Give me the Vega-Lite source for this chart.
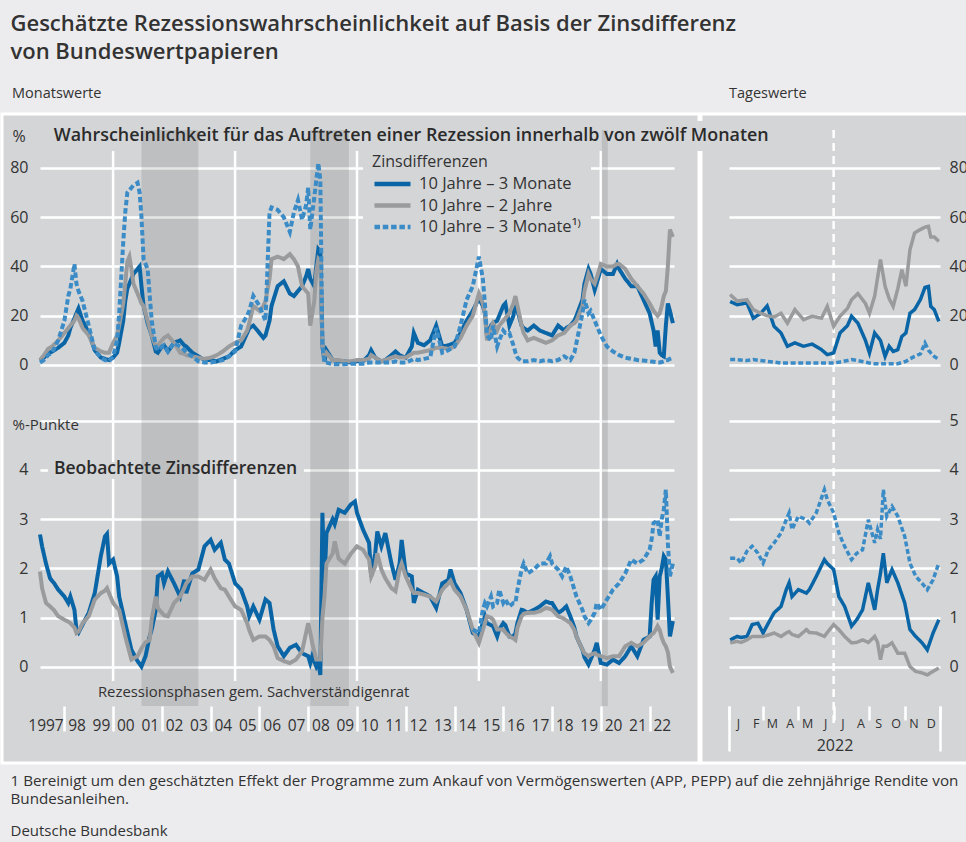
{
  "$schema": "https://vega.github.io/schema/vega-lite/v6.json",
  "background": "#ececee",
  "padding": {"left": 0, "right": 0, "top": 13, "bottom": 8},
  "config": {
    "font": "Open Sans",
    "view": {"fill": "#d4d5d7", "stroke": "#ffffff", "strokeWidth": 3},
    "axis": {"domain": false, "labelOverlap": false, "labelColor": "#333333", "labelFont": "Open Sans", "titleColor": "#333333", "titleFont": "Open Sans", "titleFontWeight": "normal"},
    "title": {"font": "Open Sans", "color": "#333333"},
    "text": {"font": "Open Sans", "color": "#333333"}
  },
  "title": {
    "text": ["Geschätzte Rezessionswahrscheinlichkeit auf Basis der Zinsdifferenz", "von Bundeswertpapieren"],
    "anchor": "start", "dx": 10, "fontSize": 22, "fontWeight": 600, "lineHeight": 28, "offset": 20, "color": "#333333"
  },
  "datasets": {
    "probM": [
      {"d":"1997-01-01","a":1.9,"b":2,"c":1},{"d":"1997-03-01","a":3,"b":4,"c":2},{"d":"1997-05-01","a":4.5,"b":6.5,"c":4},{"d":"1997-07-01","a":5.5,"b":7.5,"c":5},{"d":"1997-10-01","a":7,"b":10,"c":10},
      {"d":"1998-01-01","a":9,"b":13,"c":18},{"d":"1998-03-01","a":12,"b":15,"c":28},{"d":"1998-04-01","a":15,"b":16,"c":31},{"d":"1998-06-01","a":19,"b":18,"c":41},{"d":"1998-07-01","a":21,"b":20,"c":33},{"d":"1998-08-01","a":23,"b":19,"c":30},{"d":"1998-10-01","a":18,"b":15,"c":26},
      {"d":"1999-01-01","a":13,"b":12,"c":16},{"d":"1999-04-01","a":6,"b":7,"c":6},{"d":"1999-07-01","a":3,"b":5.5,"c":3},{"d":"1999-09-01","a":2.5,"b":5,"c":2},{"d":"1999-11-01","a":2,"b":5,"c":1.5},
      {"d":"2000-01-01","a":3,"b":9,"c":3.5},{"d":"2000-03-01","a":5,"b":12,"c":10},{"d":"2000-04-01","a":9,"b":16,"c":21},{"d":"2000-06-01","a":18,"b":25,"c":50},{"d":"2000-07-01","a":26,"b":33,"c":62},{"d":"2000-08-01","a":31,"b":42,"c":70},{"d":"2000-09-01","a":33,"b":44,"c":71},{"d":"2000-10-01","a":35,"b":39,"c":72},{"d":"2000-11-01","a":37,"b":33,"c":73},
      {"d":"2001-01-01","a":39,"b":29,"c":74},{"d":"2001-02-01","a":40,"b":27,"c":70},{"d":"2001-03-01","a":32,"b":25,"c":60},{"d":"2001-04-01","a":24,"b":24,"c":43},{"d":"2001-06-01","a":17,"b":18,"c":39},{"d":"2001-08-01","a":12,"b":12,"c":18},{"d":"2001-10-01","a":5.5,"b":7.5,"c":7.5},{"d":"2001-11-01","a":5,"b":8,"c":6},
      {"d":"2002-01-01","a":7.5,"b":10,"c":7.5},{"d":"2002-02-01","a":8,"b":11,"c":8},{"d":"2002-04-01","a":5.5,"b":12,"c":5.5},{"d":"2002-07-01","a":9,"b":9,"c":9},{"d":"2002-10-01","a":10,"b":5,"c":7.5},{"d":"2002-12-01","a":8,"b":4.5,"c":6},
      {"d":"2003-01-01","a":7.5,"b":4,"c":5},{"d":"2003-04-01","a":5,"b":3.5,"c":3.5},{"d":"2003-07-01","a":3.5,"b":3,"c":1.5},{"d":"2003-10-01","a":2,"b":2.5,"c":1},
      {"d":"2004-01-01","a":2,"b":3,"c":1},{"d":"2004-04-01","a":1.5,"b":4,"c":1.5},{"d":"2004-07-01","a":2.5,"b":5.5,"c":2},{"d":"2004-10-01","a":3.5,"b":7.5,"c":3.5},
      {"d":"2005-01-01","a":6,"b":9,"c":5.5},{"d":"2005-04-01","a":7.5,"b":10,"c":16},{"d":"2005-07-01","a":13,"b":14,"c":20},{"d":"2005-08-01","a":15,"b":17,"c":22},{"d":"2005-10-01","a":16,"b":24,"c":28},
      {"d":"2006-01-01","a":13,"b":22,"c":24},{"d":"2006-03-01","a":11,"b":24,"c":20},{"d":"2006-04-01","a":12,"b":26,"c":18},{"d":"2006-06-01","a":18,"b":35,"c":62},{"d":"2006-07-01","a":24,"b":43,"c":64},{"d":"2006-10-01","a":32,"b":44,"c":63},
      {"d":"2007-01-01","a":34,"b":43,"c":60},{"d":"2007-04-01","a":29,"b":45,"c":54},{"d":"2007-06-01","a":28,"b":43,"c":62},{"d":"2007-08-01","a":30,"b":40,"c":67},{"d":"2007-10-01","a":32,"b":32,"c":59},{"d":"2007-12-01","a":36,"b":30,"c":65},
      {"d":"2008-01-01","a":39,"b":29,"c":72},{"d":"2008-02-01","a":35,"b":16,"c":55},{"d":"2008-04-01","a":32,"b":26,"c":68},{"d":"2008-05-01","a":40,"b":38,"c":75},{"d":"2008-06-01","a":47,"b":43,"c":82},{"d":"2008-07-01","a":46,"b":42,"c":75},{"d":"2008-08-01","a":8,"b":7.5,"c":7.5},{"d":"2008-09-01","a":1.5,"b":3.5,"c":1},{"d":"2008-10-01","a":6,"b":5,"c":1},
      {"d":"2009-01-01","a":2,"b":2,"c":0.3},{"d":"2009-04-01","a":1.5,"b":2,"c":0.3},{"d":"2009-07-01","a":1.5,"b":1.5,"c":0.3},{"d":"2009-10-01","a":1,"b":1.5,"c":0.5},
      {"d":"2010-01-01","a":1.5,"b":2,"c":0.5},{"d":"2010-04-01","a":1.5,"b":2,"c":0.5},{"d":"2010-07-01","a":4,"b":2.5,"c":1},{"d":"2010-08-01","a":6,"b":4,"c":1},{"d":"2010-10-01","a":3,"b":3,"c":1},
      {"d":"2011-01-01","a":1.5,"b":1.5,"c":1},{"d":"2011-03-01","a":2,"b":2,"c":1},{"d":"2011-06-01","a":4,"b":3,"c":1},{"d":"2011-08-01","a":5.5,"b":3.5,"c":1.5},{"d":"2011-10-01","a":4,"b":3,"c":1},
      {"d":"2012-01-01","a":3,"b":3,"c":1},{"d":"2012-04-01","a":7.5,"b":4.5,"c":2},{"d":"2012-05-01","a":13,"b":5,"c":2.5},{"d":"2012-07-01","a":9,"b":5,"c":2},{"d":"2012-10-01","a":8,"b":5.5,"c":2.5},
      {"d":"2013-01-01","a":10,"b":6,"c":3},{"d":"2013-04-01","a":16,"b":7,"c":15},{"d":"2013-07-01","a":7.5,"b":7,"c":5},{"d":"2013-10-01","a":8,"b":6.5,"c":6},
      {"d":"2014-01-01","a":9,"b":7.5,"c":7.5},{"d":"2014-04-01","a":13,"b":11,"c":16},{"d":"2014-07-01","a":18,"b":16,"c":26.5},{"d":"2014-10-01","a":22,"b":20,"c":32},
      {"d":"2015-01-01","a":27,"b":29,"c":44},{"d":"2015-03-01","a":24,"b":25,"c":35},{"d":"2015-04-01","a":21,"b":21,"c":25},{"d":"2015-05-01","a":12,"b":10,"c":12},{"d":"2015-07-01","a":16,"b":15,"c":10},{"d":"2015-08-01","a":17,"b":17,"c":16},{"d":"2015-10-01","a":18,"b":14,"c":7.5},{"d":"2015-11-01","a":20,"b":16,"c":10},
      {"d":"2016-01-01","a":24,"b":18,"c":14},{"d":"2016-02-01","a":25,"b":19,"c":13},{"d":"2016-04-01","a":16,"b":21,"c":13},{"d":"2016-06-01","a":20,"b":25,"c":8},{"d":"2016-07-01","a":26.5,"b":28,"c":5},{"d":"2016-08-01","a":22,"b":24,"c":3},{"d":"2016-10-01","a":16,"b":16,"c":1.5},{"d":"2016-11-01","a":15,"b":13,"c":1.5},
      {"d":"2017-01-01","a":14,"b":10,"c":1.5},{"d":"2017-04-01","a":16,"b":11,"c":2},{"d":"2017-07-01","a":14,"b":10,"c":1.5},{"d":"2017-10-01","a":13,"b":9,"c":2},
      {"d":"2018-01-01","a":12,"b":10,"c":1.5},{"d":"2018-04-01","a":16,"b":12,"c":2},{"d":"2018-07-01","a":14,"b":13,"c":3.5},{"d":"2018-08-01","a":15,"b":14,"c":3},{"d":"2018-10-01","a":16,"b":16,"c":2},{"d":"2018-12-01","a":18,"b":17,"c":5},
      {"d":"2019-01-01","a":20,"b":18,"c":9},{"d":"2019-04-01","a":26.5,"b":24,"c":21},{"d":"2019-05-01","a":33,"b":30,"c":26.5},{"d":"2019-07-01","a":39,"b":37,"c":21},{"d":"2019-08-01","a":37,"b":35,"c":22},{"d":"2019-10-01","a":30.5,"b":33,"c":18},{"d":"2019-12-01","a":36,"b":38,"c":14},
      {"d":"2020-01-01","a":39,"b":41,"c":12},{"d":"2020-04-01","a":37,"b":40,"c":7.5},{"d":"2020-07-01","a":37,"b":40,"c":5.5},{"d":"2020-09-01","a":41,"b":41,"c":4.5},{"d":"2020-10-01","a":39,"b":41,"c":4},
      {"d":"2021-01-01","a":35,"b":39,"c":3},{"d":"2021-04-01","a":32,"b":35,"c":2.5},{"d":"2021-07-01","a":32,"b":32,"c":2},{"d":"2021-10-01","a":26.5,"b":29,"c":1.8},
      {"d":"2022-01-01","a":21,"b":25,"c":1.5},{"d":"2022-03-01","a":14,"b":22,"c":1.3},{"d":"2022-04-01","a":7.5,"b":21,"c":1.2},{"d":"2022-05-01","a":14,"b":20,"c":1},{"d":"2022-06-01","a":5,"b":21,"c":1},{"d":"2022-07-01","a":4,"b":24,"c":1.2},{"d":"2022-08-01","a":3.5,"b":28,"c":1.5},{"d":"2022-09-01","a":16,"b":30,"c":2},{"d":"2022-10-01","a":25,"b":40,"c":2},{"d":"2022-11-01","a":22,"b":55,"c":2.5},{"d":"2022-12-15","a":17,"b":52,"c":3}
    ],
    "sprM": [
      {"d":"1997-01-01","a":2.69,"b":1.94},{"d":"1997-02-01","a":2.45,"b":1.6},{"d":"1997-04-01","a":2.1,"b":1.3},{"d":"1997-06-01","a":1.8,"b":1.23},{"d":"1997-08-01","a":1.7,"b":1.15},{"d":"1997-10-01","a":1.57,"b":1.03},
      {"d":"1998-01-01","a":1.43,"b":0.96},{"d":"1998-03-01","a":1.3,"b":0.92},{"d":"1998-04-01","a":1.43,"b":0.89},{"d":"1998-06-01","a":1.16,"b":0.8},{"d":"1998-07-01","a":0.76,"b":0.69},{"d":"1998-08-01","a":0.7,"b":0.72},{"d":"1998-10-01","a":0.86,"b":0.89},
      {"d":"1999-01-01","a":1.1,"b":1.03},{"d":"1999-04-01","a":1.5,"b":1.37},{"d":"1999-07-01","a":2.25,"b":1.5},{"d":"1999-09-01","a":2.65,"b":1.55},{"d":"1999-10-01","a":2.7,"b":1.6},{"d":"1999-11-01","a":2.1,"b":1.5},
      {"d":"2000-01-01","a":2.18,"b":1.3},{"d":"2000-03-01","a":1.84,"b":1.2},{"d":"2000-04-01","a":1.43,"b":1.16},{"d":"2000-07-01","a":0.89,"b":0.62},{"d":"2000-10-01","a":0.35,"b":0.15},
      {"d":"2001-01-01","a":0.12,"b":0.22},{"d":"2001-03-01","a":0.01,"b":0.38},{"d":"2001-05-01","a":0.22,"b":0.5},{"d":"2001-07-01","a":0.62,"b":0.55},{"d":"2001-08-01","a":0.76,"b":0.96},{"d":"2001-10-01","a":1.16,"b":1.43},{"d":"2001-11-01","a":1.84,"b":1.2},
      {"d":"2002-01-01","a":1.9,"b":1.1},{"d":"2002-02-01","a":1.7,"b":1.05},{"d":"2002-04-01","a":1.94,"b":1.03},{"d":"2002-07-01","a":1.7,"b":1.3},{"d":"2002-10-01","a":1.43,"b":1.43},{"d":"2002-12-01","a":1.77,"b":1.6},
      {"d":"2003-01-01","a":1.5,"b":1.7},{"d":"2003-04-01","a":1.9,"b":1.84},{"d":"2003-07-01","a":1.98,"b":1.84},{"d":"2003-10-01","a":2.45,"b":1.77},
      {"d":"2004-01-01","a":2.58,"b":1.98},{"d":"2004-03-01","a":2.38,"b":1.8},{"d":"2004-06-01","a":2.52,"b":1.6},{"d":"2004-08-01","a":2.18,"b":1.57},{"d":"2004-10-01","a":2.1,"b":1.43},
      {"d":"2005-01-01","a":1.7,"b":1.23},{"d":"2005-04-01","a":1.57,"b":1.16},{"d":"2005-07-01","a":1.23,"b":0.89},{"d":"2005-08-01","a":1.03,"b":0.75},{"d":"2005-10-01","a":1.23,"b":0.55},
      {"d":"2006-01-01","a":0.96,"b":0.62},{"d":"2006-04-01","a":1.37,"b":0.62},{"d":"2006-06-01","a":1.3,"b":0.55},{"d":"2006-08-01","a":0.76,"b":0.42},{"d":"2006-10-01","a":0.42,"b":0.18},
      {"d":"2007-01-01","a":0.22,"b":0.12},{"d":"2007-04-01","a":0.39,"b":0.08},{"d":"2007-07-01","a":0.45,"b":0.15},{"d":"2007-10-01","a":0.28,"b":0.32},
      {"d":"2008-01-01","a":0.22,"b":0.89},{"d":"2008-02-01","a":0.08,"b":0.7},{"d":"2008-03-01","a":0.22,"b":0.49},{"d":"2008-05-01","a":0.01,"b":0.15},{"d":"2008-06-01","a":0.1,"b":0.15},{"d":"2008-07-01","a":-0.16,"b":0.15},{"d":"2008-08-01","a":3.13,"b":1.0},{"d":"2008-09-01","a":1.7,"b":1.43},{"d":"2008-10-01","a":2.72,"b":2.1},
      {"d":"2009-01-01","a":3.0,"b":2.3},{"d":"2009-02-01","a":2.9,"b":2.55},{"d":"2009-04-01","a":3.19,"b":2.2},{"d":"2009-07-01","a":3.13,"b":2.1},{"d":"2009-10-01","a":3.3,"b":2.3},{"d":"2009-12-01","a":3.36,"b":2.4},
      {"d":"2010-01-01","a":3.13,"b":2.45},{"d":"2010-04-01","a":2.79,"b":2.38},{"d":"2010-07-01","a":2.52,"b":2.18},{"d":"2010-08-01","a":1.84,"b":1.84},{"d":"2010-10-01","a":2.31,"b":2.04},{"d":"2010-11-01","a":2.75,"b":2.31},
      {"d":"2011-01-01","a":2.45,"b":1.98},{"d":"2011-03-01","a":2.72,"b":1.8},{"d":"2011-06-01","a":2.1,"b":1.6},{"d":"2011-08-01","a":1.77,"b":1.54},{"d":"2011-10-01","a":2.1,"b":1.98},{"d":"2011-11-01","a":2.58,"b":2.1},
      {"d":"2012-01-01","a":1.9,"b":1.84},{"d":"2012-04-01","a":1.84,"b":1.57},{"d":"2012-05-01","a":1.3,"b":1.5},{"d":"2012-07-01","a":1.57,"b":1.5},{"d":"2012-10-01","a":1.5,"b":1.47},
      {"d":"2013-01-01","a":1.43,"b":1.43},{"d":"2013-04-01","a":1.2,"b":1.33},{"d":"2013-07-01","a":1.7,"b":1.57},{"d":"2013-10-01","a":1.77,"b":1.7},{"d":"2013-11-01","a":1.98,"b":1.75},
      {"d":"2014-01-01","a":1.7,"b":1.57},{"d":"2014-04-01","a":1.5,"b":1.43},{"d":"2014-07-01","a":1.16,"b":1.16},{"d":"2014-10-01","a":0.69,"b":0.76,"c":0.76},
      {"d":"2015-01-01","a":0.62,"b":0.49,"c":0.69},{"d":"2015-03-01","a":0.9,"b":0.75,"c":1.16},{"d":"2015-04-01","a":1.03,"b":0.89,"c":1.3},{"d":"2015-05-01","a":0.89,"b":1.03,"c":1.23},{"d":"2015-07-01","a":0.85,"b":1.0,"c":1.43},{"d":"2015-08-01","a":0.83,"b":0.96,"c":1.23},{"d":"2015-10-01","a":0.62,"b":0.76,"c":1.3},{"d":"2015-11-01","a":0.76,"b":0.76,"c":1.57},
      {"d":"2016-01-01","a":0.89,"b":0.76,"c":1.3},{"d":"2016-02-01","a":0.85,"b":0.7,"c":1.37},{"d":"2016-04-01","a":0.62,"b":0.62,"c":1.23},{"d":"2016-06-01","a":0.62,"b":0.58,"c":1.3},{"d":"2016-07-01","a":0.69,"b":0.55,"c":1.3},{"d":"2016-08-01","a":0.9,"b":0.8,"c":1.57},{"d":"2016-10-01","a":1.16,"b":1.03,"c":1.98},{"d":"2016-11-01","a":1.15,"b":1.08,"c":2.1},
      {"d":"2017-01-01","a":1.1,"b":1.1,"c":1.9},{"d":"2017-04-01","a":1.16,"b":1.1,"c":1.98},{"d":"2017-07-01","a":1.23,"b":1.13,"c":2.1},{"d":"2017-10-01","a":1.33,"b":1.2,"c":2.1},{"d":"2017-12-01","a":1.3,"b":1.18,"c":2.25},
      {"d":"2018-01-01","a":1.3,"b":1.16,"c":2.1},{"d":"2018-04-01","a":1.1,"b":1.03,"c":1.98},{"d":"2018-06-01","a":1.15,"b":1.0,"c":1.84},{"d":"2018-08-01","a":1.23,"b":0.95,"c":2.04},{"d":"2018-10-01","a":1.03,"b":0.89,"c":1.84},{"d":"2018-12-01","a":0.8,"b":0.75,"c":1.57},
      {"d":"2019-01-01","a":0.62,"b":0.62,"c":1.43},{"d":"2019-04-01","a":0.35,"b":0.35,"c":1.16},{"d":"2019-05-01","a":0.2,"b":0.28,"c":1.03},{"d":"2019-07-01","a":0.05,"b":0.22,"c":0.89},{"d":"2019-08-01","a":0.15,"b":0.25,"c":0.95},{"d":"2019-10-01","a":0.35,"b":0.28,"c":1.1},{"d":"2019-11-01","a":0.49,"b":0.25,"c":1.3},
      {"d":"2020-01-01","a":0.08,"b":0.22,"c":1.16},{"d":"2020-04-01","a":0.05,"b":0.18,"c":1.37},{"d":"2020-07-01","a":0.15,"b":0.22,"c":1.57},{"d":"2020-10-01","a":0.08,"b":0.22,"c":1.7},
      {"d":"2021-01-01","a":0.22,"b":0.42,"c":1.9},{"d":"2021-04-01","a":0.42,"b":0.49,"c":2.18},{"d":"2021-07-01","a":0.22,"b":0.42,"c":2.1},{"d":"2021-10-01","a":0.55,"b":0.49,"c":2.18},
      {"d":"2022-01-01","a":0.62,"b":0.62,"c":2.38},{"d":"2022-02-01","a":1.3,"b":0.66,"c":2.6},{"d":"2022-03-01","a":1.77,"b":0.69,"c":2.92},{"d":"2022-04-01","a":1.84,"b":0.75,"c":2.95},{"d":"2022-05-01","a":0.96,"b":0.83,"c":2.99},{"d":"2022-06-01","a":1.84,"b":0.75,"c":2.65},{"d":"2022-07-01","a":2.0,"b":0.6,"c":3.0},{"d":"2022-08-01","a":2.25,"b":0.49,"c":3.19},{"d":"2022-09-01","a":2.18,"b":0.42,"c":3.6},{"d":"2022-10-01","a":1.43,"b":0.3,"c":2.52},{"d":"2022-11-01","a":0.62,"b":0.01,"c":1.84},{"d":"2022-12-15","a":0.93,"b":-0.12,"c":2.1}
    ],
    "probD": [
      {"d":"2022-01-03","a":25.8,"b":28.6,"c":2.2},{"d":"2022-01-15","a":24.5,"b":26,"c":2.2},{"d":"2022-02-01","a":25.2,"b":26.5,"c":1.8},{"d":"2022-02-12","a":19,"b":22.5,"c":2.2},{"d":"2022-02-25","a":21,"b":21,"c":1.8},{"d":"2022-03-08","a":24,"b":20,"c":1.5},{"d":"2022-03-20","a":15.7,"b":19.5,"c":1.2},
      {"d":"2022-04-01","a":13,"b":21,"c":0.8},{"d":"2022-04-12","a":7.6,"b":17,"c":0.8},{"d":"2022-04-25","a":9,"b":22.5,"c":0.8},{"d":"2022-05-10","a":7.6,"b":18.4,"c":0.8},{"d":"2022-05-25","a":8.5,"b":19.8,"c":0.8},{"d":"2022-06-10","a":6.2,"b":19,"c":0.8},{"d":"2022-06-20","a":4.2,"b":23.8,"c":0.8},
      {"d":"2022-07-01","a":4.9,"b":15.7,"c":0.8},{"d":"2022-07-12","a":13,"b":19.8,"c":1.2},{"d":"2022-07-25","a":16,"b":23,"c":1.8},{"d":"2022-08-01","a":19.8,"b":26.5,"c":2.2},{"d":"2022-08-12","a":17,"b":29,"c":1.8},{"d":"2022-08-25","a":10,"b":25,"c":1.2},
      {"d":"2022-09-01","a":4.9,"b":21,"c":0.8},{"d":"2022-09-10","a":13,"b":28,"c":0.5},{"d":"2022-09-20","a":10,"b":42.8,"c":0.5},{"d":"2022-09-28","a":3.5,"b":32,"c":0.5},{"d":"2022-10-05","a":7.6,"b":27,"c":0.5},{"d":"2022-10-12","a":5.5,"b":23.8,"c":0.5},{"d":"2022-10-20","a":6.2,"b":31,"c":0.5},{"d":"2022-10-27","a":11.6,"b":38.7,"c":1},
      {"d":"2022-11-03","a":13,"b":32,"c":1.5},{"d":"2022-11-10","a":21,"b":46.8,"c":2.5},{"d":"2022-11-18","a":22.5,"b":53.6,"c":3.5},{"d":"2022-11-28","a":26.5,"b":55,"c":4.5},{"d":"2022-12-06","a":31.5,"b":56,"c":8.9},{"d":"2022-12-12","a":31.9,"b":56.3,"c":6},{"d":"2022-12-16","a":23.8,"b":52,"c":4.9},{"d":"2022-12-22","a":22.5,"b":52,"c":3.5},{"d":"2022-12-30","a":17.7,"b":50.2,"c":2.2}
    ],
    "sprD": [
      {"d":"2022-01-03","a":0.55,"b":0.49,"c":2.21},{"d":"2022-01-15","a":0.62,"b":0.52,"c":2.21},{"d":"2022-01-22","a":0.6,"b":0.5,"c":2.11},{"d":"2022-02-01","a":0.62,"b":0.55,"c":2.35},{"d":"2022-02-10","a":0.86,"b":0.62,"c":2.45},{"d":"2022-02-20","a":0.89,"b":0.62,"c":2.31},
      {"d":"2022-03-01","a":0.69,"b":0.62,"c":2.11},{"d":"2022-03-10","a":0.89,"b":0.65,"c":2.38},{"d":"2022-03-20","a":1.1,"b":0.69,"c":2.52},{"d":"2022-04-01","a":1.23,"b":0.62,"c":2.72},{"d":"2022-04-10","a":1.57,"b":0.69,"c":2.99},{"d":"2022-04-15","a":1.71,"b":0.72,"c":3.13},{"d":"2022-04-20","a":1.43,"b":0.66,"c":2.79},
      {"d":"2022-05-01","a":1.57,"b":0.62,"c":3.06},{"d":"2022-05-15","a":1.5,"b":0.76,"c":2.99},{"d":"2022-05-20","a":1.57,"b":0.7,"c":2.92},{"d":"2022-06-01","a":1.84,"b":0.69,"c":3.13},{"d":"2022-06-15","a":2.18,"b":0.62,"c":3.6},{"d":"2022-06-20","a":2.1,"b":0.7,"c":3.4},
      {"d":"2022-07-01","a":1.98,"b":0.86,"c":3.13},{"d":"2022-07-10","a":1.43,"b":0.76,"c":2.72},{"d":"2022-07-20","a":1.23,"b":0.62,"c":2.45},{"d":"2022-08-01","a":0.83,"b":0.49,"c":2.18},{"d":"2022-08-10","a":0.96,"b":0.5,"c":2.31},{"d":"2022-08-20","a":1.16,"b":0.55,"c":2.38},{"d":"2022-08-30","a":1.71,"b":0.5,"c":2.99},
      {"d":"2022-09-10","a":1.16,"b":0.62,"c":2.52},{"d":"2022-09-15","a":1.57,"b":0.5,"c":2.79},{"d":"2022-09-20","a":1.9,"b":0.15,"c":2.6},{"d":"2022-09-25","a":2.31,"b":0.42,"c":3.6},{"d":"2022-10-01","a":1.71,"b":0.42,"c":3.06},{"d":"2022-10-10","a":1.98,"b":0.49,"c":3.26},{"d":"2022-10-20","a":1.71,"b":0.28,"c":3.06},
      {"d":"2022-11-01","a":1.3,"b":0.28,"c":2.65},{"d":"2022-11-10","a":0.76,"b":0.01,"c":2.11},{"d":"2022-11-20","a":0.62,"b":-0.09,"c":1.84},{"d":"2022-12-01","a":0.49,"b":-0.12,"c":1.7},{"d":"2022-12-10","a":0.35,"b":-0.16,"c":1.57},{"d":"2022-12-20","a":0.69,"b":-0.09,"c":1.77},{"d":"2022-12-30","a":0.96,"b":-0.02,"c":2.11}
    ]
  },
  "vconcat": [
    {
      "title": {
        "text": ["1 Bereinigt um den geschätzten Effekt der Programme zum Ankauf von Vermögenswerten (APP, PEPP) auf die zehnjährige Rendite von", "Bundesanleihen."],
        "subtitle": "Deutsche Bundesbank",
        "orient": "bottom", "anchor": "start", "dx": 10, "fontSize": 15.2, "fontWeight": "normal", "lineHeight": 18, "offset": 9, "color": "#333333",
        "subtitleFontSize": 15, "subtitleColor": "#333333", "subtitlePadding": 17, "subtitleFont": "Open Sans"
      },
      "spacing": 2,
      "bounds": "flush",
      "resolve": {"scale": {"color": "independent", "strokeDash": "independent"}, "legend": {"color": "independent", "strokeDash": "independent"}},
      "hconcat": [
        {
          "width": 697, "height": 649,
          "title": {"text": "Monatswerte", "anchor": "start", "frame": "group", "dx": 10, "fontSize": 14.5, "fontWeight": "normal", "offset": 13, "color": "#333333"},
          "resolve": {"scale": {"y": "independent"}, "axis": {"x": "independent", "y": "independent"}},
          "layer": [
            {
              "layer": [
                {
                  "data": {"values": [{"g": "2000-01-01"}, {"g": "2005-01-01"}, {"g": "2010-01-01"}, {"g": "2015-01-01"}, {"g": "2020-01-01"}]},
                  "mark": {"type": "rule", "color": "#ffffff", "strokeWidth": 2.5},
                  "encoding": {
                    "x": {"field": "g", "type": "temporal",
                      "scale": {"type": "utc", "domain": [{"year": 1997, "month": 1, "date": 1, "utc": true}, {"year": 2023, "month": 1, "date": 1, "utc": true}], "range": [38, 672]},
                      "axis": {"orient": "bottom", "title": null, "offset": -57,
                        "values": [{"year":1998,"month":1,"date":1,"utc":true},{"year":1999,"month":1,"date":1,"utc":true},{"year":2000,"month":1,"date":1,"utc":true},{"year":2001,"month":1,"date":1,"utc":true},{"year":2002,"month":1,"date":1,"utc":true},{"year":2003,"month":1,"date":1,"utc":true},{"year":2004,"month":1,"date":1,"utc":true},{"year":2005,"month":1,"date":1,"utc":true},{"year":2006,"month":1,"date":1,"utc":true},{"year":2007,"month":1,"date":1,"utc":true},{"year":2008,"month":1,"date":1,"utc":true},{"year":2009,"month":1,"date":1,"utc":true},{"year":2010,"month":1,"date":1,"utc":true},{"year":2011,"month":1,"date":1,"utc":true},{"year":2012,"month":1,"date":1,"utc":true},{"year":2013,"month":1,"date":1,"utc":true},{"year":2014,"month":1,"date":1,"utc":true},{"year":2015,"month":1,"date":1,"utc":true},{"year":2016,"month":1,"date":1,"utc":true},{"year":2017,"month":1,"date":1,"utc":true},{"year":2018,"month":1,"date":1,"utc":true},{"year":2019,"month":1,"date":1,"utc":true},{"year":2020,"month":1,"date":1,"utc":true},{"year":2021,"month":1,"date":1,"utc":true},{"year":2022,"month":1,"date":1,"utc":true},{"year":2023,"month":1,"date":1,"utc":true}],
                        "format": "%y", "labelExpr": "utcyear(datum.value) % 2 == 0 ? datum.label : ''",
                        "ticks": true, "tickSize": 25, "tickColor": "#ffffff", "tickWidth": 2.5,
                        "labelOffset": 12.2, "labelPadding": -6, "labelBaseline": "middle", "labelAlign": "center", "labelFontSize": 15.5,
                        "labelOverlap": false, "labelFlush": false, "labelBound": false, "grid": false}},
                    "y": {"datum": 86.9, "type": "quantitative",
                      "scale": {"domain": [-128.32, 86.9], "range": [567, 37], "nice": false, "zero": false},
                      "axis": {"orient": "left", "offset": -28, "values": [0, 20, 40, 60, 80], "format": "d", "title": "%", "titleAngle": 0, "titleX": -18, "titleY": 22, "titleAlign": "left", "titleBaseline": "middle", "titleFontSize": 16,
                        "labelFontSize": 16, "labelPadding": 2, "ticks": false, "tickSize": 0, "grid": true, "gridColor": "#ffffff", "gridWidth": 2.5}},
                    "y2": {"datum": -128.32}
                  }
                },
                {
                  "data": {"values": [{"t": "box"}]},
                  "mark": {"type": "rect", "fill": "#d4d5d7"},
                  "encoding": {
                    "x": {"datum": {"year": 1997, "month": 4, "date": 30, "utc": true}, "type": "temporal"},
                    "x2": {"datum": {"year": 2007, "month": 10, "date": 29, "utc": true}},
                    "y": {"datum": -39.4, "type": "quantitative"},
                    "y2": {"datum": -46.3}
                  }
                },
                {
                  "data": {"values": [{"start": "2001-03-01", "end": "2003-07-01"}, {"start": "2008-02-01", "end": "2009-09-01"}, {"start": "2020-01-15", "end": "2020-04-15"}]},
                  "mark": {"type": "rect", "fill": "#000000", "opacity": 0.1},
                  "encoding": {
                    "x": {"field": "start", "type": "temporal"},
                    "x2": {"field": "end"},
                    "y": {"datum": 95.4, "type": "quantitative"},
                    "y2": {"datum": -138.5}
                  }
                },
                {
                  "data": {"name": "probM"},
                  "transform": [{"fold": ["a", "b", "c"], "as": ["k", "v"]}],
                  "mark": {"type": "line", "strokeWidth": 4},
                  "encoding": {
                    "x": {"field": "d", "type": "temporal"},
                    "y": {"field": "v", "type": "quantitative"},
                    "color": {"field": "k", "type": "nominal",
                      "scale": {"domain": ["a", "b", "c"], "range": ["#0a65a6", "#9a9b9d", "#3b8cc6"]},
                      "legend": {"title": "Zinsdifferenzen", "orient": "none", "legendX": 361, "legendY": 31, "fillColor": "#d4d5d7", "padding": 9,
                        "titleFontSize": 16, "titleFontWeight": "normal", "titleColor": "#333333", "titlePadding": 5,
                        "labelFontSize": 16.5, "labelColor": "#333333", "labelLimit": 300, "labelOffset": 6,
                        "labelExpr": "datum.label == 'a' ? '10 Jahre – 3 Monate' : datum.label == 'b' ? '10 Jahre – 2 Jahre' : '10 Jahre – 3 Monate¹⁾'",
                        "symbolType": "stroke", "symbolSize": 1296, "symbolStrokeWidth": 4.5, "clipHeight": 18, "rowPadding": 3.5, "zindex": 1}},
                    "strokeDash": {"field": "k", "type": "nominal",
                      "scale": {"domain": ["a", "b", "c"], "range": [[1, 0], [1, 0], [5.5, 2.8]]},
                      "legend": {"title": "Zinsdifferenzen", "orient": "none", "legendX": 361, "legendY": 31, "fillColor": "#d4d5d7", "padding": 9,
                        "titleFontSize": 16, "titleFontWeight": "normal", "titleColor": "#333333", "titlePadding": 5,
                        "labelFontSize": 16.5, "labelColor": "#333333", "labelLimit": 300, "labelOffset": 6,
                        "labelExpr": "datum.label == 'a' ? '10 Jahre – 3 Monate' : datum.label == 'b' ? '10 Jahre – 2 Jahre' : '10 Jahre – 3 Monate¹⁾'",
                        "symbolType": "stroke", "symbolSize": 1296, "symbolStrokeWidth": 4.5, "clipHeight": 18, "rowPadding": 3.5, "zindex": 1}}
                  }
                }
              ]
            },
            {
              "layer": [
                {
                  "data": {"name": "sprM"},
                  "transform": [{"fold": ["a", "b", "c"], "as": ["k", "v"]}],
                  "mark": {"type": "line", "strokeWidth": 4},
                  "encoding": {
                    "x": {"field": "d", "type": "temporal",
                      "axis": {"orient": "bottom", "title": null, "offset": -57,
                        "values": [{"year":1999,"month":1,"date":1,"utc":true},{"year":2001,"month":1,"date":1,"utc":true},{"year":2003,"month":1,"date":1,"utc":true},{"year":2005,"month":1,"date":1,"utc":true},{"year":2007,"month":1,"date":1,"utc":true},{"year":2009,"month":1,"date":1,"utc":true},{"year":2011,"month":1,"date":1,"utc":true},{"year":2013,"month":1,"date":1,"utc":true},{"year":2015,"month":1,"date":1,"utc":true},{"year":2017,"month":1,"date":1,"utc":true},{"year":2019,"month":1,"date":1,"utc":true},{"year":2021,"month":1,"date":1,"utc":true}],
                        "format": "%y", "ticks": true, "tickSize": 25, "tickOpacity": 0, "labelOffset": 12.2, "labelPadding": -6,
                        "labelBaseline": "middle", "labelAlign": "center", "labelFontSize": 15.5, "grid": false, "labelFlush": false, "labelBound": false, "labelOverlap": false}},
                    "y": {"field": "v", "type": "quantitative",
                      "scale": {"domain": [-0.2843, 10.477], "range": [567, 37], "nice": false, "zero": false},
                      "axis": {"orient": "left", "offset": -28, "values": [0, 1, 2, 3, 4, 5], "format": "d", "labelExpr": "datum.value == 5 ? '' : datum.label",
                        "title": "%-Punkte", "titleAngle": 0, "titleX": -18, "titleY": 310, "titleAlign": "left", "titleBaseline": "middle", "titleFontSize": 15,
                        "labelFontSize": 16, "labelPadding": 2, "ticks": false, "tickSize": 0, "grid": true, "gridColor": "#ffffff", "gridWidth": 2.5}},
                    "color": {"field": "k", "type": "nominal"},
                    "strokeDash": {"field": "k", "type": "nominal"}
                  }
                },
                {
                  "data": {"values": [{"t": "Beobachtete Zinsdifferenzen"}]},
                  "mark": {"type": "text", "align": "left", "baseline": "middle", "fontSize": 17.5, "fontWeight": 600, "color": "#2b2b2b"},
                  "encoding": {
                    "x": {"datum": {"year": 1997, "month": 7, "date": 29, "utc": true}, "type": "temporal"},
                    "y": {"datum": 4.03, "type": "quantitative"},
                    "text": {"field": "t"}
                  }
                }
              ]
            },
            {
              "layer": [
                {
                  "data": {"values": [{"t": "Rezessionsphasen gem. Sachverständigenrat"}]},
                  "mark": {"type": "text", "align": "left", "baseline": "middle", "fontSize": 14.9, "color": "#333333"},
                  "encoding": {
                    "x": {"datum": {"year": 1999, "month": 5, "date": 18, "utc": true}, "type": "temporal",
                      "axis": {"orient": "bottom", "title": null, "offset": -57, "values": [{"year": 1997, "month": 1, "date": 1, "utc": true}],
                        "labelExpr": "'1997'", "ticks": true, "tickSize": 25, "tickOpacity": 0, "labelOffset": 5.5, "labelPadding": -6,
                        "labelBaseline": "middle", "labelAlign": "center", "labelFontSize": 15.5, "grid": false, "labelFlush": false, "labelBound": false, "labelOverlap": false}},
                    "y": {"datum": -0.528, "type": "quantitative",
                      "scale": {"domain": [-0.2843, 10.477], "range": [567, 37], "nice": false, "zero": false}, "axis": null},
                    "text": {"field": "t"}
                  }
                }
              ]
            }
          ]
        },
        {
          "width": 267, "height": 649,
          "title": {"text": "Tageswerte", "anchor": "start", "frame": "group", "dx": 28, "fontSize": 14.5, "fontWeight": "normal", "offset": 13, "color": "#333333"},
          "resolve": {"scale": {"y": "independent"}, "axis": {"x": "independent", "y": "independent"}},
          "layer": [
            {
              "layer": [
                {
                  "data": {"values": [{"t": "Juli"}]},
                  "mark": {"type": "rule", "color": "#ffffff", "strokeWidth": 2.5, "strokeDash": [8, 5]},
                  "encoding": {
                    "x": {"datum": {"year": 2022, "month": 7, "date": 1, "utc": true}, "type": "temporal",
                      "scale": {"type": "utc", "domain": [{"year": 2022, "month": 1, "date": 1, "utc": true}, {"year": 2023, "month": 1, "date": 1, "utc": true}], "range": [28, 239]},
                      "axis": {"orient": "bottom", "title": null, "offset": -57,
                        "values": [{"year":2022,"month":2,"date":1,"utc":true},{"year":2022,"month":4,"date":1,"utc":true},{"year":2022,"month":6,"date":1,"utc":true},{"year":2022,"month":8,"date":1,"utc":true},{"year":2022,"month":10,"date":1,"utc":true},{"year":2022,"month":12,"date":1,"utc":true}],
                        "labelExpr": "['J','F','M','A','M','J','J','A','S','O','N','D'][utcmonth(datum.value)]",
                        "ticks": true, "tickSize": 14, "tickOpacity": 0,
                        "labelOffset": 8.8, "labelPadding": 3, "labelBaseline": "middle", "labelAlign": "center", "labelFontSize": 12.5,
                        "labelOverlap": false, "labelFlush": false, "labelBound": false, "grid": false}},
                    "y": {"datum": 95.4, "type": "quantitative",
                      "scale": {"domain": [-128.32, 86.9], "range": [567, 37], "nice": false, "zero": false}, "axis": null},
                    "y2": {"datum": -147.4}
                  }
                }
              ]
            },
            {
              "layer": [
                {
                  "data": {"values": [{"t": "box"}]},
                  "mark": {"type": "rect", "fill": "#d4d5d7"},
                  "encoding": {
                    "x": {"datum": {"year": 2021, "month": 11, "date": 7, "utc": true}, "type": "temporal",
                      "axis": {"orient": "bottom", "title": null, "offset": -57,
                        "values": [{"year":2022,"month":1,"date":1,"utc":true},{"year":2022,"month":2,"date":1,"utc":true},{"year":2022,"month":3,"date":1,"utc":true},{"year":2022,"month":4,"date":1,"utc":true},{"year":2022,"month":5,"date":1,"utc":true},{"year":2022,"month":6,"date":1,"utc":true},{"year":2022,"month":7,"date":1,"utc":true},{"year":2022,"month":8,"date":1,"utc":true},{"year":2022,"month":9,"date":1,"utc":true},{"year":2022,"month":10,"date":1,"utc":true},{"year":2022,"month":11,"date":1,"utc":true},{"year":2022,"month":12,"date":1,"utc":true},{"year":2023,"month":1,"date":1,"utc":true}],
                        "labelExpr": "utcyear(datum.value) == 2022 && utcmonth(datum.value) % 2 == 0 ? ['J','F','M','A','M','J','J','A','S','O','N','D'][utcmonth(datum.value)] : ''",
                        "ticks": true, "tickSize": 14, "tickColor": "#ffffff", "tickWidth": 2.5,
                        "labelOffset": 8.8, "labelPadding": 3, "labelBaseline": "middle", "labelAlign": "center", "labelFontSize": 12.5,
                        "labelOverlap": false, "labelFlush": false, "labelBound": false, "grid": false}},
                    "x2": {"datum": {"year": 2021, "month": 11, "date": 22, "utc": true}},
                    "y": {"datum": 99.1, "type": "quantitative",
                      "scale": {"domain": [-128.32, 86.9], "range": [567, 37], "nice": false, "zero": false},
                      "axis": {"orient": "right", "offset": -19, "values": [0, 20, 40, 60, 80], "format": "d", "title": null, "labelAlign": "left",
                        "labelFontSize": 16, "labelPadding": 0, "ticks": false, "tickSize": 0, "grid": true, "gridColor": "#ffffff", "gridWidth": 2.5}},
                    "y2": {"datum": 86.9}
                  }
                },
                {
                  "data": {"name": "probD"},
                  "transform": [{"fold": ["a", "b", "c"], "as": ["k", "v"]}],
                  "mark": {"type": "line", "strokeWidth": 3.5},
                  "encoding": {
                    "x": {"field": "d", "type": "temporal"},
                    "y": {"field": "v", "type": "quantitative"},
                    "color": {"field": "k", "type": "nominal", "scale": {"domain": ["a", "b", "c"], "range": ["#0a65a6", "#9a9b9d", "#3b8cc6"]}, "legend": null},
                    "strokeDash": {"field": "k", "type": "nominal", "scale": {"domain": ["a", "b", "c"], "range": [[1, 0], [1, 0], [5, 2.6]]}, "legend": null}
                  }
                },
                {
                  "data": {"values": [{"t": "Wahrscheinlichkeit für das Auftreten einer Rezession innerhalb von zwölf Monaten"}]},
                  "mark": {"type": "text", "align": "left", "baseline": "middle", "fontSize": 17.9, "fontWeight": 600, "color": "#2b2b2b"},
                  "encoding": {
                    "x": {"datum": {"year": 2018, "month": 10, "date": 21, "utc": true}, "type": "temporal"},
                    "y": {"datum": 93.0, "type": "quantitative"},
                    "text": {"field": "t"}
                  }
                }
              ]
            },
            {
              "layer": [
                {
                  "data": {"name": "sprD"},
                  "transform": [{"fold": ["a", "b", "c"], "as": ["k", "v"]}],
                  "mark": {"type": "line", "strokeWidth": 3.5},
                  "encoding": {
                    "x": {"field": "d", "type": "temporal",
                      "axis": {"orient": "bottom", "title": "2022", "titleFontSize": 16, "titleFontWeight": "normal", "titleY": 39, "titleBaseline": "middle", "offset": -57,
                        "values": [{"year": 2022, "month": 1, "date": 1, "utc": true}, {"year": 2023, "month": 1, "date": 1, "utc": true}],
                        "labels": false, "ticks": true, "tickSize": 45, "tickColor": "#ffffff", "tickWidth": 2.5, "grid": false}},
                    "y": {"field": "v", "type": "quantitative",
                      "scale": {"domain": [-0.2843, 10.477], "range": [567, 37], "nice": false, "zero": false},
                      "axis": {"orient": "right", "offset": -19, "values": [0, 1, 2, 3, 4, 5], "format": "d", "title": null, "labelAlign": "left",
                        "labelFontSize": 16, "labelPadding": 0, "ticks": false, "tickSize": 0, "grid": true, "gridColor": "#ffffff", "gridWidth": 2.5}},
                    "color": {"field": "k", "type": "nominal"},
                    "strokeDash": {"field": "k", "type": "nominal"}
                  }
                }
              ]
            }
          ]
        }
      ]
    }
  ]
}
